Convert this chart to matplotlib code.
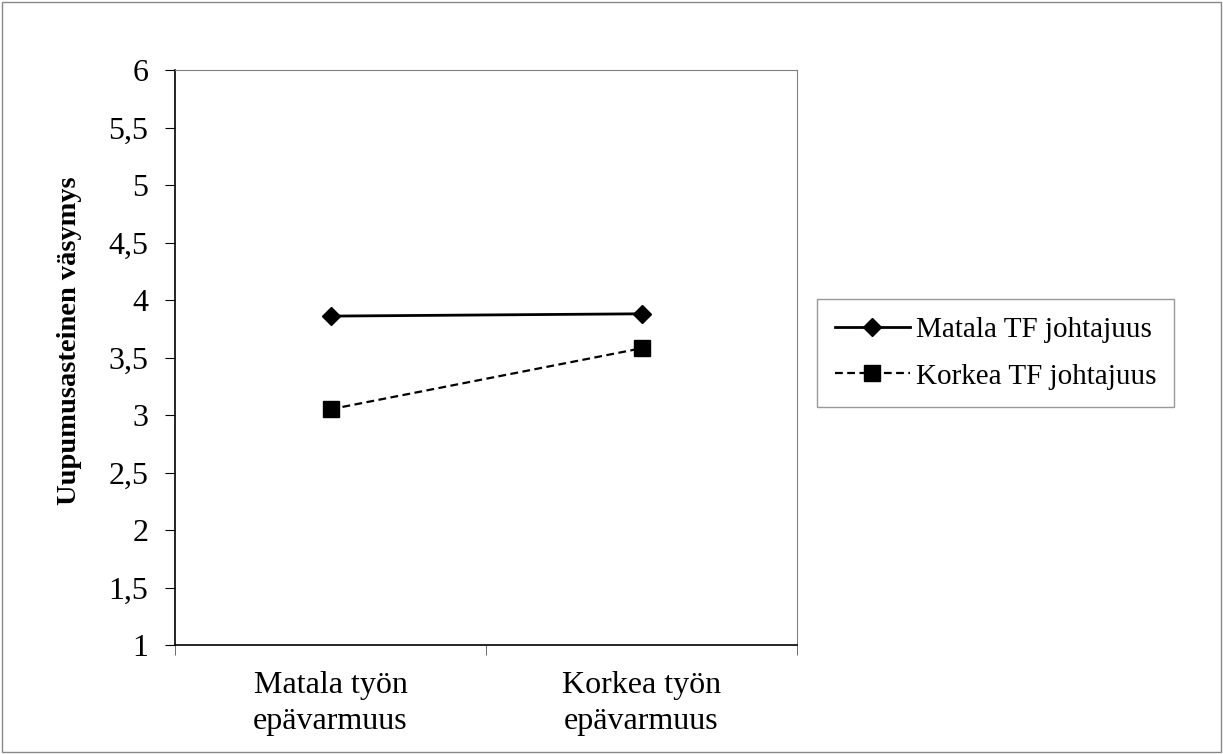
import matplotlib
matplotlib.use("Agg")
import matplotlib.pyplot as plt
from matplotlib.patches import Rectangle

# data
categories = ["Matala työn\nepävarmuus", "Korkea työn\nepävarmuus"]
matala_tf = [3.86, 3.88]
korkea_tf = [3.05, 3.58]
series_names = ["Matala TF johtajuus", "Korkea TF johtajuus"]
y_ticks = [1, 1.5, 2, 2.5, 3, 3.5, 4, 4.5, 5, 5.5, 6]

plt.rcParams['font.family'] = ['Liberation Serif', 'DejaVu Serif']

fig = plt.figure(figsize=(12.23, 7.54), dpi=100)
ax = fig.add_axes([175/1223, 1 - 645/754, (797-175)/1223, (645-70)/754])

x = list(range(len(categories)))
ax.plot(x, matala_tf, color="black", linestyle="-", linewidth=2,
        marker="D", markersize=9, label=series_names[0])
ax.plot(x, korkea_tf, color="black", linestyle=(0, (3.5, 2)), linewidth=1.6,
        marker="s", markersize=11, label=series_names[1])

ax.set_xlim(-0.5, 1.5)
ax.set_ylim(1, 6)
ax.set_yticks(y_ticks)
ax.set_yticklabels([str(v).replace(".", ",").replace(",0", "") for v in y_ticks])

# category labels between tick marks
ax.set_xticks(x)
ax.set_xticklabels(categories, fontsize=23, linespacing=1.3)
ax.tick_params(axis="x", length=0, pad=19)
ax.set_xticks([-0.5, 0.5, 1.5], minor=True)
ax.tick_params(axis="x", which="minor", length=7, direction="out", color="#555555")
ax.tick_params(axis="y", length=7, direction="out", labelsize=23, pad=12)

for side in ["top", "right"]:
    ax.spines[side].set_color("#808080")
for side in ["left", "bottom"]:
    ax.spines[side].set_color("black")
    ax.spines[side].set_linewidth(1.2)

ax.set_ylabel("Uupumusasteinen väsymys", fontsize=20.5, fontweight="bold")
ax.yaxis.set_label_coords(-0.15, 0.529)

leg = ax.legend(loc="center left", bbox_to_anchor=(817/1223, 1 - 353/754),
                bbox_transform=fig.transFigure, fontsize=21, frameon=True,
                fancybox=False, edgecolor="#808080", handlelength=2.6,
                handletextpad=0.2, borderpad=0.6, labelspacing=0.7,
                borderaxespad=0)
leg.get_frame().set_linewidth(1)

# outer chart border
fig.patches.append(Rectangle((0.002, 0.002), 0.996, 0.996, transform=fig.transFigure,
                             fill=False, edgecolor="#888888", linewidth=1))

fig.savefig("out.png", dpi=100)
